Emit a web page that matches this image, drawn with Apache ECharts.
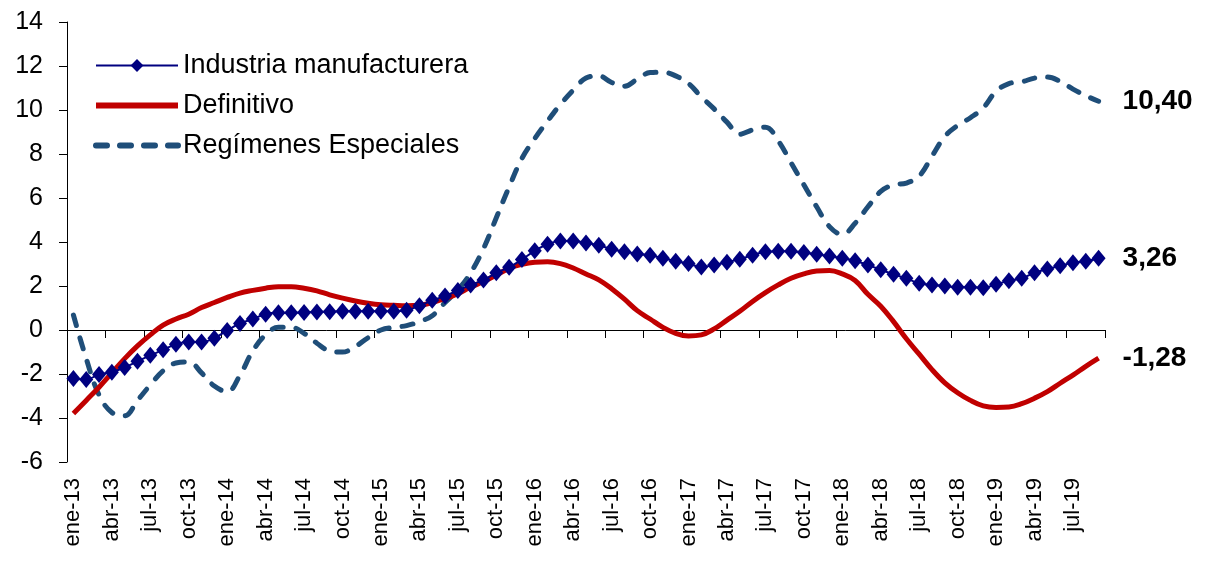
<!DOCTYPE html>
<html>
<head>
<meta charset="utf-8">
<script src="https://cdn.jsdelivr.net/npm/echarts@6/dist/echarts.min.js"></script>
<style>
  html, body { margin: 0; padding: 0; background: #fff; }
  #main { width: 1205px; height: 563px; }
</style>
</head>
<body>
<div id="main"></div>
<script>
// meses ene-13 .. sep-19
var meses = ['ene', 'feb', 'mar', 'abr', 'may', 'jun', 'jul', 'ago', 'sep', 'oct', 'nov', 'dic'];
var categorias = [];
for (var a = 13; a <= 19; a++) {
  for (var m = 0; m < 12; m++) {
    if (a === 19 && m > 8) break;
    categorias.push(meses[m] + '-' + a);
  }
}

var industria = [
  -2.2, -2.25, -2.02, -1.92, -1.7, -1.42, -1.15, -0.9, -0.65, -0.55,
  -0.55, -0.37, -0.02, 0.3, 0.5, 0.72, 0.78, 0.78, 0.8, 0.82,
  0.83, 0.85, 0.85, 0.85, 0.85, 0.85, 0.9, 1.1, 1.35, 1.55,
  1.8, 2.05, 2.27, 2.6, 2.85, 3.2, 3.6, 3.9, 4.05, 4.05,
  3.95, 3.85, 3.67, 3.56, 3.46, 3.4, 3.26, 3.13, 3.02, 2.86,
  2.96, 3.08, 3.22, 3.4, 3.56, 3.58, 3.58, 3.52, 3.44, 3.36,
  3.26, 3.15, 2.95, 2.74, 2.53, 2.35, 2.12, 2.05, 2.0, 1.94,
  1.94, 1.92, 2.08, 2.24, 2.35, 2.6, 2.77, 2.92, 3.06, 3.12, 3.26
];

var definitivo = [
  -3.8, -3.2, -2.6, -1.95, -1.3, -0.72, -0.22, 0.22, 0.5, 0.72,
  1.02, 1.25, 1.48, 1.68, 1.8, 1.9, 1.97, 1.97, 1.9, 1.78,
  1.6, 1.45, 1.32, 1.22, 1.15, 1.12, 1.1, 1.12, 1.25, 1.42,
  1.65, 1.95, 2.2, 2.5, 2.8, 2.98, 3.08, 3.1, 3.02, 2.82,
  2.55, 2.28, 1.88, 1.4, 0.88, 0.5, 0.12, -0.15, -0.27, -0.22,
  0.05, 0.45, 0.85, 1.3, 1.7, 2.05, 2.35, 2.55, 2.68, 2.7,
  2.55, 2.25, 1.62, 1.08, 0.38, -0.4, -1.1, -1.8, -2.4, -2.85,
  -3.2, -3.45, -3.52, -3.5, -3.35, -3.1, -2.8, -2.42, -2.05, -1.65, -1.28
];

var regimenes = [
  0.68, -1.3, -2.95, -3.75, -3.9, -3.2, -2.5, -1.85, -1.5, -1.45,
  -1.95, -2.55, -2.8, -2.05, -0.95, -0.22, 0.12, 0.12, -0.15, -0.6,
  -0.95, -1.0, -0.75, -0.35, 0.0, 0.12, 0.2, 0.38, 0.65, 1.25,
  1.82, 2.6, 3.7, 5.1, 6.5, 7.8, 8.7, 9.5, 10.25, 10.9,
  11.45, 11.55, 11.25, 11.08, 11.4, 11.7, 11.72, 11.55, 11.2, 10.6,
  10.05, 9.45, 8.9, 9.1, 9.22, 8.6, 7.6, 6.6, 5.6, 4.7,
  4.35, 4.85, 5.6, 6.3, 6.6, 6.68, 7.0, 7.9, 8.8, 9.3,
  9.65, 10.1, 10.85, 11.2, 11.28, 11.45, 11.5, 11.3, 10.95, 10.65, 10.4
];

var chart = echarts.init(document.getElementById('main'));

function etiquetaFinal(p) {
  return p.value.toFixed(2).replace('.', ',');
}
var estiloFinal = {
  show: true,
  formatter: etiquetaFinal,
  distance: 24,
  fontSize: 28,
  fontWeight: 'bold',
  color: '#000',
  fontFamily: 'Liberation Sans'
};

var option = {
  animation: false,
  backgroundColor: '#fff',
  textStyle: { fontFamily: 'Liberation Sans', color: '#000' },
  grid: { left: 67, right: 100, top: 22, bottom: 101, containLabel: false },
  legend: {
    orient: 'vertical',
    left: 88,
    top: 47,
    itemWidth: 82,
    itemHeight: 16,
    itemGap: 13,
    textStyle: { fontSize: 27, color: '#000', fontFamily: 'Liberation Sans' },
    data: [
      { name: 'Industria manufacturera' },
      {
        name: 'Definitivo',
        itemStyle: { opacity: 0 },
        lineStyle: { width: 6, color: '#C00000' }
      },
      {
        name: 'Regímenes Especiales',
        itemStyle: { opacity: 0 },
        lineStyle: { width: 6, color: '#1F4E79', type: [11, 13], cap: 'round' }
      }
    ]
  },
  xAxis: [
    {
      type: 'category',
      data: categorias,
      boundaryGap: true,
      position: 'bottom',
      axisLine: { show: false, onZero: false },
      axisTick: { show: false },
      axisLabel: {
        interval: 2,
        rotate: 90,
        fontSize: 22,
        margin: 16,
        color: '#000'
      },
      splitLine: { show: false }
    },
    {
      type: 'category',
      data: categorias,
      boundaryGap: true,
      position: 'bottom',
      axisLine: { show: true, onZero: true, lineStyle: { color: '#000', width: 1 } },
      axisTick: { show: true, interval: 2, length: 8, lineStyle: { color: '#000' } },
      axisLabel: { show: false },
      splitLine: { show: false }
    }
  ],
  yAxis: {
    type: 'value',
    min: -6,
    max: 14,
    interval: 2,
    axisLine: { show: true, lineStyle: { color: '#000', width: 1 } },
    axisTick: { show: true, length: 8, lineStyle: { color: '#000' } },
    axisLabel: { fontSize: 25, margin: 24, color: '#000' },
    splitLine: { show: false }
  },
  series: [
    {
      name: 'Regímenes Especiales',
      type: 'line',
      data: regimenes,
      smooth: 0.4,
      showSymbol: false,
      symbol: 'none',
      lineStyle: { color: '#1F4E79', width: 5, type: [11, 13], cap: 'round' },
      itemStyle: { color: '#1F4E79' },
      endLabel: estiloFinal,
      z: 2
    },
    {
      name: 'Definitivo',
      type: 'line',
      data: definitivo,
      smooth: 0.4,
      showSymbol: false,
      symbol: 'none',
      lineStyle: { color: '#C00000', width: 5 },
      itemStyle: { color: '#C00000' },
      endLabel: estiloFinal,
      z: 3
    },
    {
      name: 'Industria manufacturera',
      type: 'line',
      data: industria,
      smooth: 0.4,
      symbol: 'diamond',
      symbolSize: [14, 17],
      showSymbol: true,
      showAllSymbol: true,
      lineStyle: { color: '#000080', width: 2 },
      itemStyle: { color: '#000080' },
      endLabel: estiloFinal,
      z: 4
    }
  ]
};

chart.setOption(option);
</script>
</body>
</html>
